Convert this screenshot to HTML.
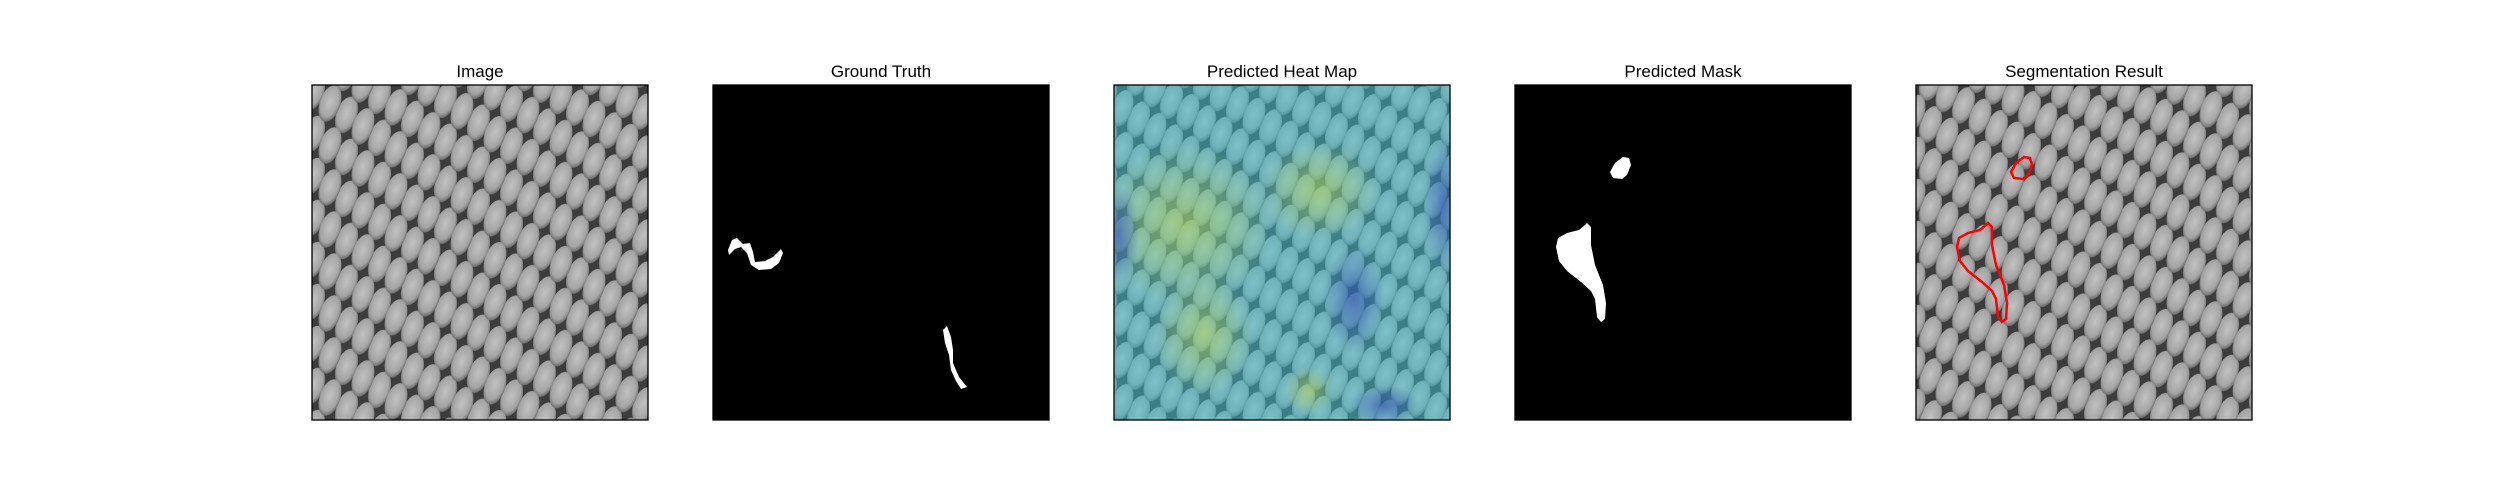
<!DOCTYPE html>
<html><head><meta charset="utf-8">
<style>
body{margin:0;background:#fff;width:2500px;height:500px;overflow:hidden;font-family:"Liberation Sans","DejaVu Sans",sans-serif;}
svg{display:block}
</style></head>
<body>
<svg id="fig" width="2500" height="500" xmlns="http://www.w3.org/2000/svg">
<defs>
  <radialGradient id="cellg" cx="50%" cy="45%" r="55%">
    <stop offset="0" stop-color="#c2c2c2"/><stop offset="0.75" stop-color="#a4a4a4"/><stop offset="1" stop-color="#6a6a6a"/>
  </radialGradient>
  <pattern id="mesh" width="33" height="42" patternUnits="userSpaceOnUse" patternTransform="skewY(-30)">
    <rect width="33" height="42" fill="#3c3c3c"/>
    <ellipse cx="16.5" cy="21" rx="11.5" ry="17" fill="url(#cellg)"/>
    <ellipse cx="0" cy="0" rx="11.5" ry="17" fill="url(#cellg)"/>
    <ellipse cx="33" cy="0" rx="11.5" ry="17" fill="url(#cellg)"/>
    <ellipse cx="0" cy="42" rx="11.5" ry="17" fill="url(#cellg)"/>
    <ellipse cx="33" cy="42" rx="11.5" ry="17" fill="url(#cellg)"/>
  </pattern>
  <radialGradient id="hy1" cx="50%" cy="50%" r="50%"><stop offset="0" stop-color="#c8d84a" stop-opacity="0.5"/><stop offset="1" stop-color="#c8d84a" stop-opacity="0"/></radialGradient>
  <radialGradient id="hb1" cx="50%" cy="50%" r="50%"><stop offset="0" stop-color="#2a3fb0" stop-opacity="0.55"/><stop offset="1" stop-color="#2a3fb0" stop-opacity="0"/></radialGradient>
</defs>
<g id="panels"></g>
</svg>
<script>
// panel layout data
const titles = ["Image","Ground Truth","Predicted Heat Map","Predicted Mask","Segmentation Result"];
const panelX = [312, 713, 1114, 1515, 1916];
// blob outlines in panel image coordinates (0..336)
const gtBlobA = [[15,165],[19,155],[24,153],[30,159],[37,158],[40,167],[42,177],[52,176],[60,172],[68,164],[70,168],[66,178],[58,184],[46,185],[38,180],[34,168],[28,162],[22,164],[16,170]];
const gtBlobB = [[230,245],[234,241],[238,252],[240,265],[240,278],[246,292],[254,302],[248,304],[243,296],[238,285],[236,270],[232,258]];
const predBlobA = [[72,138],[76,142],[76,160],[80,180],[88,200],[91,218],[90,234],[86,237],[82,232],[80,214],[76,206],[66,197],[52,186],[44,176],[41,162],[43,153],[52,148],[64,145],[70,140]];
const predBlobB = [[108,72],[114,73],[116,80],[112,90],[107,94],[98,93],[95,87],[100,78]];
const heatYellow = [[70,140,90,80],[205,105,60,50],[90,250,50,60],[195,305,25,25]];
const heatBlue = [[240,215,30,55],[5,150,20,50],[330,120,20,70],[270,320,35,20]];

const NS="http://www.w3.org/2000/svg";
const root=document.getElementById('panels');
const PY=85, PW=336, PH=335;
function sx(i,v){return panelX[i]+v;}
function sy(v){return PY+v;}
function mk(tag,attrs,parent){const e=document.createElementNS(NS,tag);for(const k in attrs)e.setAttribute(k,attrs[k]);(parent||root).appendChild(e);return e;}
function pts(i,arr){return arr.map(p=>sx(i,p[0])+","+sy(p[1])).join(" ");}

titles.forEach((t,i)=>{
  const g=mk('g',{});
  
  
  const tx=mk('text',{x:sx(i,PW/2),y:77,'text-anchor':'middle','font-size':'17','fill':'#000','font-family':'"Liberation Sans","DejaVu Sans",sans-serif'},g);
  tx.textContent=t;
  
  
  const clipId='clip'+i;
  const cp=mk('clipPath',{id:clipId},g);mk('rect',{x:sx(i,0),y:sy(0),width:PW,height:PH},cp);
  const body=mk('g',{'clip-path':'url(#'+clipId+')'},g);
  if(i===1||i===3){
    mk('rect',{x:sx(i,0),y:sy(0),width:PW,height:PH,fill:'#000'},body);
    const blobs = i===1?[gtBlobA,gtBlobB]:[predBlobA,predBlobB];
    blobs.forEach(b=>{const p=mk('polygon',{points:pts(i,b),fill:'#fff'},body);
      
      });
  } else {
    mk('rect',{x:sx(i,0),y:sy(0),width:PW,height:PH,fill:'url(#mesh)'},body);
    if(i===2){
      mk('rect',{x:sx(i,0),y:sy(0),width:PW,height:PH,fill:'#3cc0d0','fill-opacity':'0.5'},body);
      heatYellow.forEach(h=>{const e=mk('ellipse',{cx:sx(i,h[0]),cy:sy(h[1]),rx:h[2],ry:h[3],fill:'url(#hy1)'},body);
        
        });
      heatBlue.forEach(h=>{const e=mk('ellipse',{cx:sx(i,h[0]),cy:sy(h[1]),rx:h[2],ry:h[3],fill:'url(#hb1)'},body);
        
        });
    }
    if(i===4){
      [predBlobA,predBlobB].forEach(b=>{const p=mk('polygon',{points:pts(i,b),fill:'none',stroke:'#ff0000','stroke-width':'2.5'},body);
        
        });
    }
  }
  const fr=mk('rect',{x:sx(i,0),y:sy(0),width:PW,height:PH,fill:'none',stroke:'#000','stroke-width':'1.3'},g);
  
  
});
</script>
</body></html>
